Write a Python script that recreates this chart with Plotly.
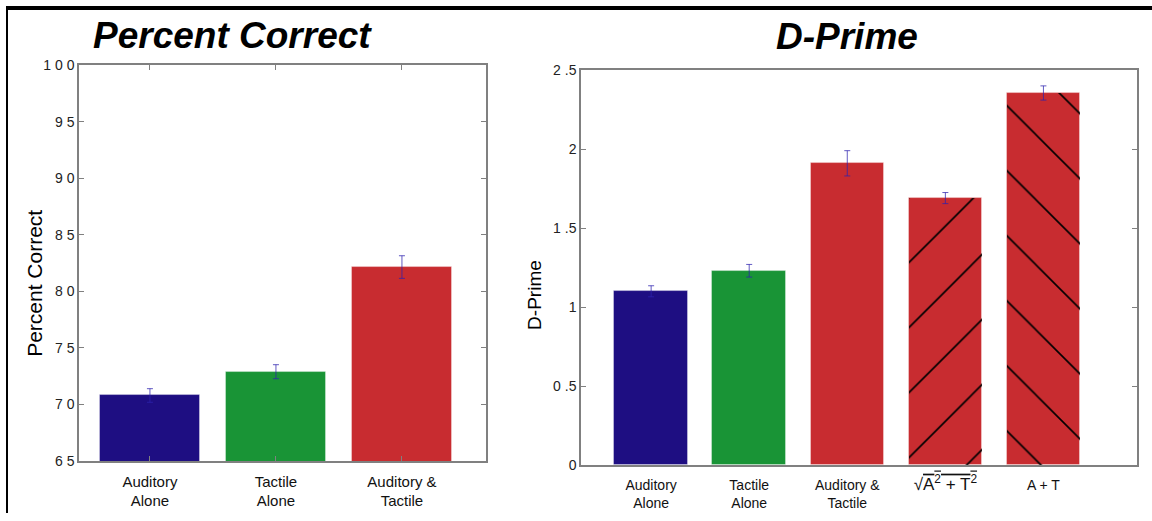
import plotly.graph_objects as go

# ---- data ----
pc_categories = ["Auditory<br>Alone", "Tactile<br>Alone", "Auditory &<br>Tactile"]
pc_values = [70.8, 72.9, 82.15]
pc_errors = [0.6, 0.62, 1.0]
pc_ticks = [65, 70, 75, 80, 85, 90, 95, 100]
pc_ticktext = ["6 5", "7 0", "7 5", "8 0", "8 5", "9 0", "9 5", "1 0 0"]

dp_categories = ["Auditory<br>Alone", "Tactile<br>Alone", "Auditory &<br>Tactile",
                 "<span style='font-size:17px'>√<span style='text-decoration:overline'>A<sup>2</sup> + T<sup>2</sup></span></span>",
                 "A + T"]
dp_values = [1.10, 1.23, 1.91, 1.69, 2.355]
dp_errors = [0.035, 0.04, 0.08, 0.035, 0.045]
dp_ticks = [0, 0.5, 1, 1.5, 2, 2.5]
dp_ticktext = ["0", "0 .5", "1", "1 .5", "2", "2 .5"]
# hatched (model-prediction) bars: indices into the D-Prime categories
hatch_index = [3, 4]
hatch_shapes = ["/", "\\"]

BLUE = "#1E0E82"
GREEN = "#199436"
RED = "#C82C30"
pc_colors = [BLUE, GREEN, RED]
dp_colors = [BLUE, GREEN, RED, RED, RED]

W, H = 1152, 521
FONT = "Liberation Sans, Arial, sans-serif"


def py(px):
    """target pixel row -> paper y (compensating for the page's vertical fit)"""
    return 1 - ((px - 8.5) / 0.968) / H


fig = go.Figure()

pc_x = list(range(1, len(pc_values) + 1))
dp_x = list(range(1, len(dp_values) + 1))

err_style = dict(type="data", thickness=1, width=3, color="rgba(45,35,175,0.75)")

fig.add_trace(go.Bar(
    x=pc_x, y=pc_values, width=0.8,
    marker=dict(color=pc_colors, line=dict(width=1, color="rgba(255,255,255,0.35)")),
    error_y=dict(array=pc_errors, **err_style),
    xaxis="x", yaxis="y", showlegend=False,
))
fig.add_trace(go.Bar(
    x=dp_x, y=dp_values, width=0.75,
    marker=dict(color=dp_colors, line=dict(width=1, color="rgba(255,255,255,0.35)")),
    error_y=dict(array=dp_errors, **err_style),
    xaxis="x2", yaxis="y2", showlegend=False,
))
# hatch overlay
fig.add_trace(go.Bar(
    x=[dp_x[i] for i in hatch_index], y=[dp_values[i] for i in hatch_index], width=0.75,
    marker=dict(color="black", line=dict(width=0),
                pattern=dict(shape=hatch_shapes, fgcolor="black", bgcolor="rgba(0,0,0,0)",
                             fgopacity=1, size=46, solidity=0.035, fillmode="replace")),
    xaxis="x2", yaxis="y2", showlegend=False, hoverinfo="skip",
))

axis_common = dict(showline=True, linecolor="#808080", linewidth=1.5,
                   showgrid=False, zeroline=False, tickcolor="#808080",
                   ticklen=5, tickwidth=1)
ytick_font = dict(family=FONT, size=14, color="#222")

L0, L1 = 79 / W, 486 / W
LT, LB = py(65.5), py(461)
R0, R1 = 581 / W, 1137 / W
RT, RB = py(70.5), py(465)

fig.update_layout(
    width=W, height=H,
    margin=dict(l=0, r=0, t=0, b=0),
    paper_bgcolor="white", plot_bgcolor="white",
    bargap=0, barmode="overlay",
    xaxis=dict(domain=[L0, L1], anchor="y", range=[0.437, 3.667],
               tickvals=pc_x, ticktext=pc_categories, ticks="inside", mirror="ticks",
               ticklabelstandoff=6,
               tickfont=dict(family=FONT, size=15, color="#111"), **axis_common),
    yaxis=dict(domain=[LB, LT], anchor="x", range=[65, 100],
               tickvals=pc_ticks, ticktext=pc_ticktext, ticks="inside", mirror="ticks",
               tickfont=ytick_font, **axis_common),
    xaxis2=dict(domain=[R0, R1], anchor="y2", range=[0.285, 5.954],
                tickvals=dp_x, ticktext=dp_categories, ticks="", mirror=True,
                ticklabelstandoff=6,
                tickfont=dict(family=FONT, size=14, color="#111"), **axis_common),
    yaxis2=dict(domain=[RB, RT], anchor="x2", range=[0, 2.5],
                tickvals=dp_ticks, ticktext=dp_ticktext, ticks="inside", mirror="ticks",
                tickfont=ytick_font, **axis_common),
)

annots = [
    dict(text="<b><i>Percent Correct</i></b>", x=232 / W, y=py(36),
         font=dict(family=FONT, size=37, color="black")),
    dict(text="<b><i>D-Prime</i></b>", x=847 / W, y=py(37),
         font=dict(family=FONT, size=37, color="black")),
    dict(text="Percent Correct", x=35 / W, y=py(284), textangle=-90,
         font=dict(family=FONT, size=21, color="black")),
    dict(text="D-Prime", x=535 / W, y=py(295), textangle=-90,
         font=dict(family=FONT, size=19, color="black")),
]
for a in annots:
    fig.add_annotation(xref="paper", yref="paper", xanchor="center", yanchor="middle",
                       showarrow=False, **a)

# outer frame (left and top edges)
fig.add_shape(type="line", xref="paper", yref="paper", x0=7 / W, x1=7 / W, y0=0, y1=1,
              line=dict(color="black", width=2))
fig.add_shape(type="line", xref="paper", yref="paper", x0=6 / W, x1=1, y0=1, y1=1,
              line=dict(color="black", width=4))

fig.write_html("out.html")
